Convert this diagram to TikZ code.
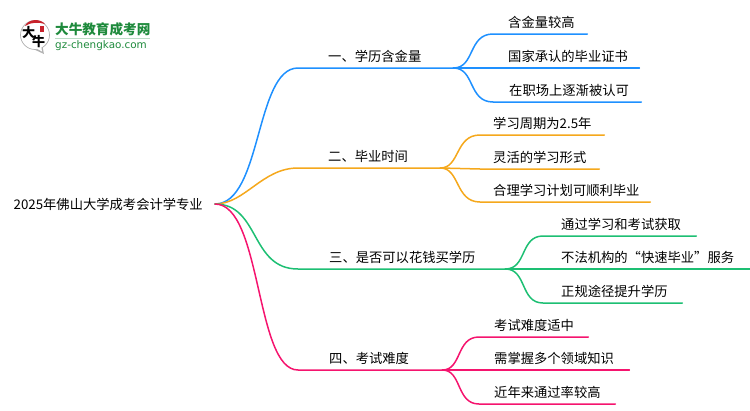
\documentclass[tikz,border=0pt]{standalone}
\usepackage{fontspec}
\setmainfont{Noto Sans CJK SC}
\newfontfamily\latinlogo{DejaVu Sans}
\definecolor{bluebr}{HTML}{1E90FF}
\definecolor{orangebr}{HTML}{F5A81C}
\definecolor{greenbr}{HTML}{1DBF73}
\definecolor{pinkbr}{HTML}{F5146E}
\definecolor{logogreen}{HTML}{1E8A3C}
\definecolor{logored}{HTML}{C8232C}

\begin{document}
\begin{tikzpicture}[x=1pt,y=-1pt]
\tikzstyle{every node}=[inner xsep=0pt,inner ysep=5pt,font=\fontsize{13.3pt}{15pt}\selectfont];
\tikzstyle{item}=[anchor=south west,align=left];
\tikzstyle{wire}=[line width=1.5pt,line cap=round];
\useasboundingbox (0,0) rectangle (750,410);

% logo
\fill[black!30] (31,48) -- (44,54) -- (42,44) -- cycle;
\fill[white,draw=black!30,line width=0.7pt] (35,35) circle (14.5);
\fill[white] (34,47) -- (42,51.5) -- (41,45) -- cycle;
\fill[logored] (25,26) .. controls (28,19) and (40,18) .. (45,24) .. controls (39,22) and (31,22) .. (25,26) -- cycle;
\fill[logored] (40,25.5) rectangle (44,32);
\node[anchor=center,inner ysep=0pt,font=\fontsize{13pt}{13pt}\selectfont\bfseries] (logoda) at (28.5,33) {大};
\node[anchor=center,inner ysep=0pt,font=\fontsize{13pt}{13pt}\selectfont\bfseries] (logoniu) at (38.5,42) {牛};
\node[anchor=west,inner ysep=0pt,text=logogreen,font=\fontsize{13.6pt}{15pt}\selectfont\bfseries] (logotitle) at (55,29) {大牛教育成考网};
\node[anchor=west,inner ysep=0pt,text=logogreen,font=\latinlogo\fontsize{10.4pt}{11pt}\selectfont] (logourl) at (55,45.5) {gz-chengkao.com};
\draw[logogreen!30,line width=1pt] (55,38.5) -- (150,38.5);

% root
\node[anchor=east,inner xsep=12pt,inner ysep=0pt] (root) at (215,204) {2025年佛山大学成考会计学专业};

% first level
\node[item,text width=155pt] (xueli) at (298,68) {\hspace*{30pt}一、学历含金量};
\node[item,text width=142pt] (shijian) at (298,168) {\hspace*{30pt}二、毕业时间};
\node[item,text width=207pt] (huaqian) at (298,269) {\hspace*{31pt}三、是否可以花钱买学历};
\node[item,text width=144pt] (nandu) at (298,370) {\hspace*{31pt}四、考试难度};

% second level
\node[item,text width=94pt] (hanjin) at (493,34) {\hspace*{15pt}含金量较高};
\node[item,text width=146pt] (guojia) at (493,68) {\hspace*{15pt}国家承认的毕业证书};
\node[item,text width=148pt] (zhichang) at (493,102) {\hspace*{16pt}在职场上逐渐被认可};

\node[item,text width=124pt] (zhouqi) at (480,135) {\hspace*{13pt}学习周期为2.5年};
\node[item,text width=119pt] (linghuo) at (480,169) {\hspace*{13pt}灵活的学习形式};
\node[item,text width=170pt] (heli) at (480,202) {\hspace*{13pt}合理学习计划可顺利毕业};

\node[item,text width=153pt] (tongguo) at (543,236) {\hspace*{18pt}通过学习和考试获取};
\node[item,text width=207pt] (bufa) at (543,269) {\hspace*{18pt}不法机构的“快速毕业”服务};
\node[item,text width=139pt] (zhenggui) at (543,303) {\hspace*{18pt}正规途径提升学历};

\node[item,text width=109pt] (shizhong) at (479,337) {\hspace*{15pt}考试难度适中};
\node[item,text width=150pt] (zhangwo) at (479,370) {\hspace*{15pt}需掌握多个领域知识};
\node[item,text width=136pt] (jinnian) at (479,404) {\hspace*{15pt}近年来通过率较高};

% root to first level
\draw[wire,bluebr] (root.east) .. controls (262,204) and (255,68) .. (xueli.south west) -- (xueli.south east);
\draw[wire,orangebr] (root.east) .. controls (245,204) and (262,168) .. (shijian.south west) -- (shijian.south east);
\draw[wire,greenbr] (root.east) .. controls (260,204) and (250,269) .. (huaqian.south west) -- (huaqian.south east);
\draw[wire,pinkbr] (root.east) .. controls (262,204) and (255,370) .. (nandu.south west) -- (nandu.south east);

% first level to second level
\draw[wire,bluebr] (xueli.south east) .. controls (475,68) and (468,34) .. (hanjin.south west) -- (hanjin.south east);
\draw[wire,bluebr] (xueli.south east) -- (guojia.south west) -- (guojia.south east);
\draw[wire,bluebr] (xueli.south east) .. controls (475,68) and (468,102) .. (zhichang.south west) -- (zhichang.south east);

\draw[wire,orangebr] (shijian.south east) .. controls (460,168) and (455,135) .. (zhouqi.south west) -- (zhouqi.south east);
\draw[wire,orangebr] (shijian.south east) -- (linghuo.south west) -- (linghuo.south east);
\draw[wire,orangebr] (shijian.south east) .. controls (460,168) and (455,202) .. (heli.south west) -- (heli.south east);

\draw[wire,greenbr] (huaqian.south east) .. controls (527,269) and (520,236) .. (tongguo.south west) -- (tongguo.south east);
\draw[wire,greenbr] (huaqian.south east) -- (bufa.south west) -- (bufa.south east);
\draw[wire,greenbr] (huaqian.south east) .. controls (527,269) and (520,303) .. (zhenggui.south west) -- (zhenggui.south east);

\draw[wire,pinkbr] (nandu.south east) .. controls (462,370) and (456,337) .. (shizhong.south west) -- (shizhong.south east);
\draw[wire,pinkbr] (nandu.south east) -- (zhangwo.south west) -- (zhangwo.south east);
\draw[wire,pinkbr] (nandu.south east) .. controls (462,370) and (456,404) .. (jinnian.south west) -- (jinnian.south east);
\end{tikzpicture}
\end{document}
